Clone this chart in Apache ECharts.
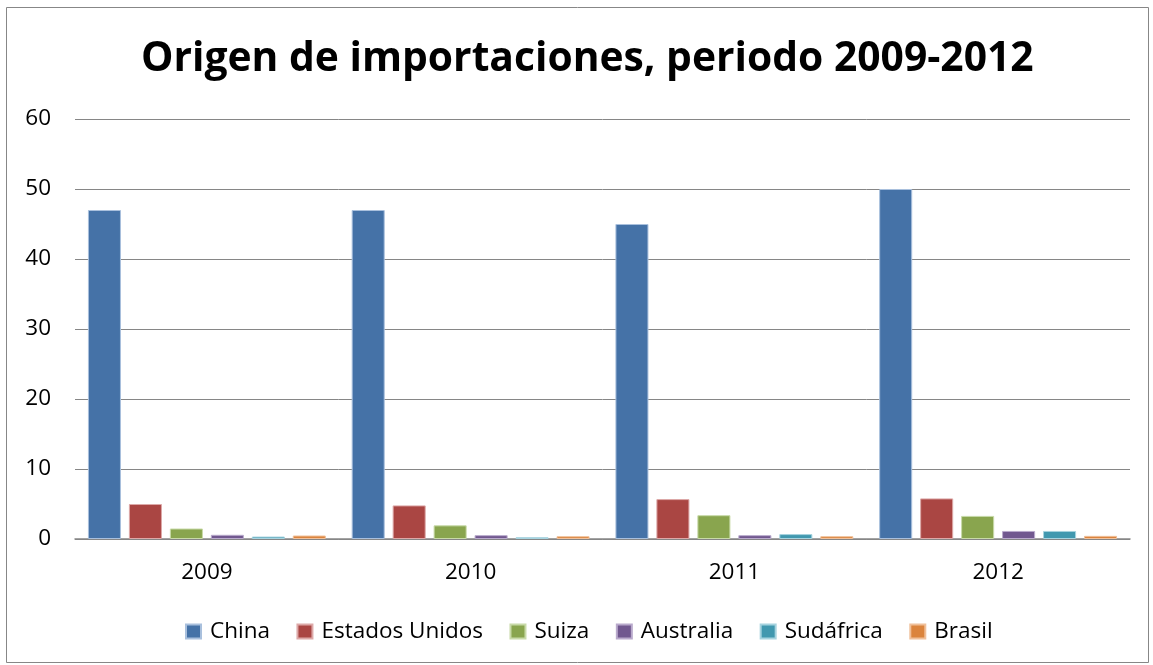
<!DOCTYPE html>
<html>
<head>
<meta charset="utf-8">
<style>
  html, body { margin: 0; padding: 0; background: #fff; }
  #chart { width: 1153px; height: 665px; }
</style>
<script src="https://cdn.jsdelivr.net/npm/echarts@6/dist/echarts.min.js"></script>
</head>
<body>
<div id="chart"></div>
<script>
  // datos
  var years = ['2009', '2010', '2011', '2012']
  var china = [47, 47, 45, 50]
  var estadosUnidos = [5.0, 4.8, 5.7, 5.8]
  var suiza = [1.5, 1.95, 3.4, 3.3]
  var australia = [0.6, 0.55, 0.55, 1.15]
  var sudafrica = [0.35, 0.25, 0.7, 1.15]
  var brasil = [0.5, 0.4, 0.4, 0.45]

  var names = ['China', 'Estados Unidos', 'Suiza', 'Australia', 'Sudáfrica', 'Brasil']
  var values = [china, estadosUnidos, suiza, australia, sudafrica, brasil]
  var colors = ['#4572A7', '#AA4643', '#89A54E', '#71588F', '#4198AF', '#DB843D']
  var edges = ['#A9C0DD', '#DDA9A8', '#C8DAA8', '#B9AACC', '#A6D3DF', '#F0C09A']

  var myChart = echarts.init(document.getElementById('chart'))
  var font = 'Open Sans, Liberation Sans, sans-serif'

  var option = {
    animation: false,
    color: colors,
    graphic: [{
      type: 'rect',
      shape: { x: 6.5, y: 7.5, width: 1142, height: 655 },
      style: { fill: 'none', stroke: '#878787', lineWidth: 1 }
    }],
    title: {
      text: 'Origen de importaciones, periodo 2009-2012',
      left: 136,
      top: 34,
      textStyle: { fontFamily: font, fontWeight: 'bold', fontSize: 40.8, color: '#000' }
    },
    legend: {
      top: 615,
      left: 180,
      itemWidth: 15,
      itemHeight: 14,
      itemGap: 26.5,
      icon: 'rect',
      textStyle: { fontFamily: font, fontSize: 22.5, color: '#000', padding: [0, 0, 0, 4] },
      data: names
    },
    grid: { left: 75, right: 23, top: 119, bottom: 126 },
    xAxis: {
      type: 'category',
      data: years,
      axisLine: { lineStyle: { color: '#868686', width: 1.5 } },
      axisTick: { show: false },
      axisLabel: { fontFamily: font, fontSize: 22.5, color: '#000', margin: 22 }
    },
    yAxis: {
      type: 'value',
      min: 0,
      max: 60,
      interval: 10,
      axisLine: { show: false },
      axisTick: { show: false },
      splitLine: { lineStyle: { color: '#868686', width: 1 } },
      axisLabel: { fontFamily: font, fontSize: 22.5, color: '#000', margin: 24 }
    },
    series: names.map(function (n, i) {
      return {
        name: n,
        type: 'bar',
        data: values[i],
        barGap: '24%',
        barCategoryGap: '9.8%',
        itemStyle: { color: colors[i], borderColor: edges[i], borderWidth: 1 }
      }
    })
  }
  myChart.setOption(option)
</script>
</body>
</html>
